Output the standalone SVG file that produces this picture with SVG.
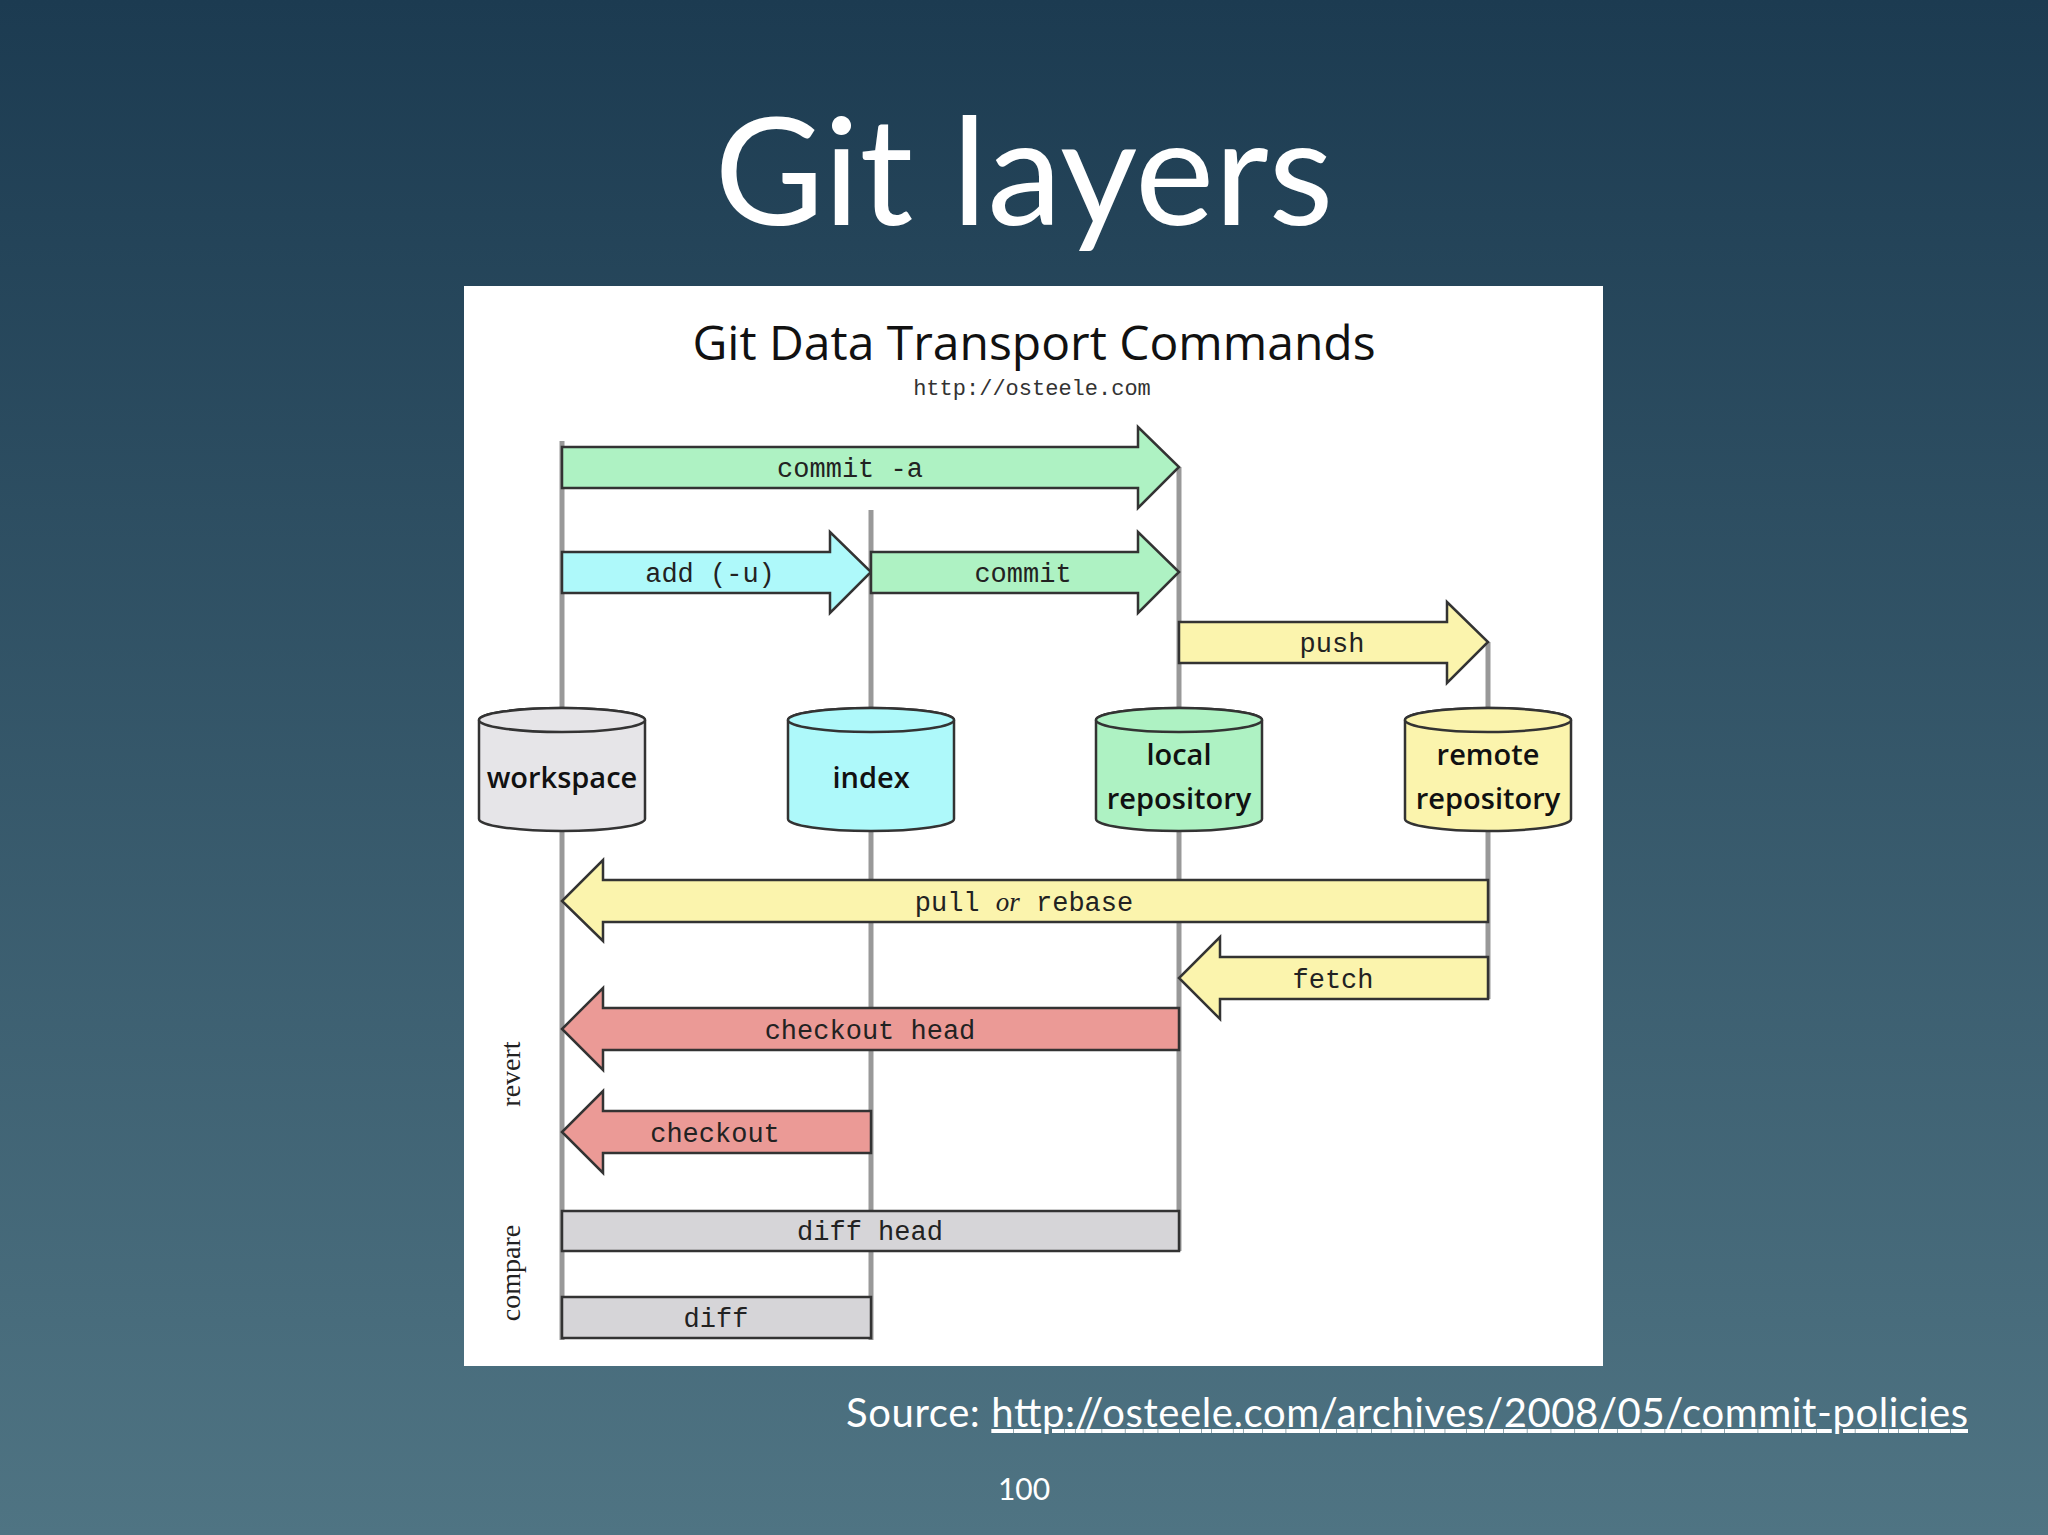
<svg xmlns="http://www.w3.org/2000/svg" width="2048" height="1535" viewBox="0 0 2048 1535">
<defs>
<linearGradient id="bg" x1="0" y1="0" x2="0" y2="1"><stop offset="0" stop-color="#1c3b51"/><stop offset="1" stop-color="#4f7483"/></linearGradient>
<style>
.ar{stroke:#333;stroke-width:2.5}
.g{fill:#aef2c3}.c{fill:#aef9fa}.y{fill:#fbf4ad}.r{fill:#eb9a96}.gr{fill:#d6d5d8}
.lbl{font-family:"Liberation Mono",monospace;font-size:27px;fill:#222;text-anchor:middle}
.cyl{font-family:"Open Sans","Liberation Sans",sans-serif;font-size:29px;font-weight:600;fill:#111;text-anchor:middle}
.life{stroke:#999;stroke-width:5}
</style>
</defs>
<rect width="2048" height="1535" fill="url(#bg)"/>
<text x="1024" y="225" font-family="Lato,'Liberation Sans',sans-serif" font-size="150" fill="#fff" text-anchor="middle">Git layers</text>
<rect x="464" y="286" width="1139" height="1080" fill="#fff"/>
<text x="1034" y="360" font-family="'Open Sans','Liberation Sans',sans-serif" font-size="48" fill="#111" text-anchor="middle">Git Data Transport Commands</text>
<text x="1032" y="395" font-family="'Liberation Mono',monospace" font-size="22" fill="#333" text-anchor="middle">http://osteele.com</text>
<g id="lifelines">
<line class="life" x1="562" y1="441" x2="562" y2="1340"/>
<line class="life" x1="871" y1="510" x2="871" y2="1340"/>
<line class="life" x1="1179" y1="467" x2="1179" y2="1251"/>
<line class="life" x1="1488" y1="642" x2="1488" y2="999"/>
</g>
<g id="connectors">
<g id="commit-a"><polygon class="ar g" points="562,447 1138,447 1138,427 1179,467 1138,508 1138,488 562,488"/><text class="lbl" x="850" y="477">commit -a</text></g>
<g id="add"><polygon class="ar c" points="562,552 830,552 830,532 871,572 830,613 830,593 562,593"/><text class="lbl" x="710" y="582">add (-u)</text></g>
<g id="commit"><polygon class="ar g" points="871,552 1138,552 1138,532 1179,572 1138,613 1138,593 871,593"/><text class="lbl" x="1023" y="582">commit</text></g>
<g id="push"><polygon class="ar y" points="1179,622 1447,622 1447,602 1488,642 1447,683 1447,663 1179,663"/><text class="lbl" x="1332" y="652">push</text></g>
<g id="pull"><polygon class="ar y" points="1488,880 603,880 603,860 562,901 603,941 603,922 1488,922"/><text class="lbl" x="1024" y="911"><tspan>pull </tspan><tspan font-family="'Liberation Serif',serif" font-style="italic">or</tspan><tspan> rebase</tspan></text></g>
<g id="fetch"><polygon class="ar y" points="1488,957 1220,957 1220,937 1179,978 1220,1019 1220,999 1488,999"/><text class="lbl" x="1333" y="988">fetch</text></g>
<g id="checkout-head"><polygon class="ar r" points="1179,1008 603,1008 603,988 562,1029 603,1070 603,1050 1179,1050"/><text class="lbl" x="870" y="1039">checkout head</text></g>
<g id="checkout"><polygon class="ar r" points="871,1111 603,1111 603,1091 562,1132 603,1173 603,1153 871,1153"/><text class="lbl" x="715" y="1142">checkout</text></g>
<g id="diff-head"><rect class="ar gr" x="562" y="1211" width="617" height="40"/><text class="lbl" x="870" y="1240">diff head</text></g>
<g id="diff"><rect class="ar gr" x="562" y="1297" width="309" height="41"/><text class="lbl" x="716" y="1327">diff</text></g>
</g>
<g id="workspace"><path class="ar" fill="#e6e5e8" d="M479,720 V819 A83,12 0 0 0 645,819 V720 A83,12 0 0 0 479,720 Z"/><ellipse class="ar" fill="#e6e5e8" cx="562" cy="720" rx="83" ry="12"/><text class="cyl" x="562" y="788">workspace</text></g>
<g id="index"><path class="ar" fill="#aef9fa" d="M788,720 V819 A83,12 0 0 0 954,819 V720 A83,12 0 0 0 788,720 Z"/><ellipse class="ar" fill="#aef9fa" cx="871" cy="720" rx="83" ry="12"/><text class="cyl" x="871" y="788">index</text></g>
<g id="local"><path class="ar" fill="#aef2c3" d="M1096,720 V819 A83,12 0 0 0 1262,819 V720 A83,12 0 0 0 1096,720 Z"/><ellipse class="ar" fill="#aef2c3" cx="1179" cy="720" rx="83" ry="12"/><text class="cyl" x="1179" y="765">local</text><text class="cyl" x="1179" y="809">repository</text></g>
<g id="remote"><path class="ar" fill="#fbf4ad" d="M1405,720 V819 A83,12 0 0 0 1571,819 V720 A83,12 0 0 0 1405,720 Z"/><ellipse class="ar" fill="#fbf4ad" cx="1488" cy="720" rx="83" ry="12"/><text class="cyl" x="1488" y="765">remote</text><text class="cyl" x="1488" y="809">repository</text></g>
<text transform="translate(520,1074) rotate(-90)" font-family="'Liberation Serif',serif" font-size="28" fill="#222" text-anchor="middle">revert</text>
<text transform="translate(520,1273) rotate(-90)" font-family="'Liberation Serif',serif" font-size="28" fill="#222" text-anchor="middle">compare</text>
<text x="846" y="1427" font-family="Lato,'Liberation Sans',sans-serif" font-size="40" fill="#fff" textLength="1122">Source: <tspan text-decoration="underline">http://osteele.com/archives/2008/05/commit-policies</tspan></text>
<text x="1024" y="1500" font-family="Lato,'Liberation Sans',sans-serif" font-size="30" fill="#fff" text-anchor="middle">100</text>
</svg>
